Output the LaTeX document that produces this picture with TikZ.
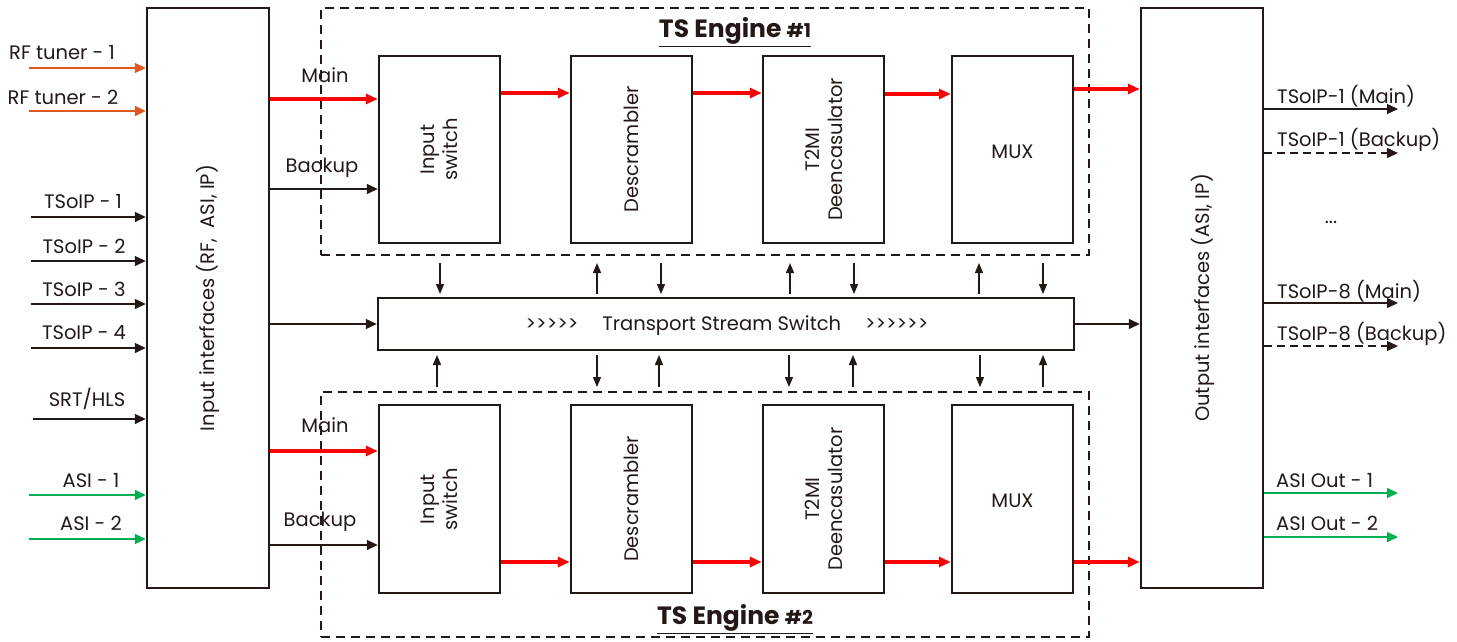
\documentclass[tikz,border=0pt]{standalone}
\usepackage{fontspec}
\setmainfont{Poppins}
\usetikzlibrary{arrows.meta}
\definecolor{ink}{HTML}{231815}
\definecolor{rfor}{HTML}{E0571F}
\definecolor{asig}{HTML}{00B050}
\definecolor{redl}{HTML}{FF0000}
\begin{document}
\begin{tikzpicture}[x=1pt,y=-1pt,
  every node/.style={font=\fontsize{19.5}{23}\selectfont, text=ink, inner sep=0pt},
  box/.style={draw=ink, line width=2.4pt, fill=white},
  engbox/.style={draw=ink, line width=2.4pt, dash pattern=on 9pt off 6pt},
  thinarr/.style={draw=ink, line width=1.3pt, -{Triangle[length=11pt,width=10pt]}},
  vertarr/.style={draw=ink, line width=1.3pt, -{Triangle[length=10pt,width=8pt]}},
  dasharr/.style={thinarr, dash pattern=on 8pt off 5pt},
  redarr/.style={draw=redl, line width=3.2pt, -{Triangle[length=12pt,width=10pt]}},
  orarr/.style={draw=rfor, line width=1.6pt, -{Triangle[length=11pt,width=10pt]}},
  grarr/.style={draw=asig, line width=1.6pt, -{Triangle[length=11pt,width=10pt]}},
  vlabel/.style={rotate=90, align=center},
  title/.style={font=\fontsize{25}{28}\selectfont\bfseries}
]
\useasboundingbox (0,0) rectangle (1457,641);

% engines (dashed)
\node[engbox, minimum width=768pt, minimum height=247pt] (eng1) at (705,131.5) {};
\node[engbox, minimum width=768pt, minimum height=245pt] (eng2) at (705,514.5) {};
\node[title] (t1) at (735,32) {\underline{TS Engine {\fontsize{19}{22}\selectfont\#1}}};
\node[title] (t2) at (735,619) {\underline{TS Engine {\fontsize{19}{22}\selectfont\#2}}};

% input / output blocks
\node[box, minimum width=122pt, minimum height=580pt] (inb) at (208,298) {};
\node[vlabel] (inbt) at (208,298) {Input interfaces (RF,\ \ ASI, IP)};
\node[box, minimum width=122pt, minimum height=580pt] (outb) at (1202,298) {};
\node[vlabel] (outbt) at (1203,298) {Output interfaces (ASI, IP)};

% engine 1 blocks
\node[box, minimum width=121pt, minimum height=187pt] (sw1) at (439.5,149.5) {};
\node[vlabel] (sw1t) at (439.5,149.5) {Input\\switch};
\node[box, minimum width=121pt, minimum height=187pt] (ds1) at (631.5,149.5) {};
\node[vlabel] (ds1t) at (631.5,149.5) {Descrambler};
\node[box, minimum width=121pt, minimum height=187pt] (tm1) at (823.5,149.5) {};
\node[vlabel] (tm1t) at (823.5,149.5) {T2MI\\Deencasulator};
\node[box, minimum width=121pt, minimum height=187pt] (mx1) at (1012.5,149.5) {};
\node (mx1t) at (1012.5,152) {MUX};

% engine 2 blocks
\node[box, minimum width=121pt, minimum height=188pt] (sw2) at (439.5,499) {};
\node[vlabel] (sw2t) at (439.5,499) {Input\\switch};
\node[box, minimum width=121pt, minimum height=188pt] (ds2) at (631.5,499) {};
\node[vlabel] (ds2t) at (631.5,499) {Descrambler};
\node[box, minimum width=121pt, minimum height=188pt] (tm2) at (823.5,499) {};
\node[vlabel] (tm2t) at (823.5,499) {T2MI\\Deencasulator};
\node[box, minimum width=121pt, minimum height=188pt] (mx2) at (1012.5,499) {};
\node (mx2t) at (1012.5,501) {MUX};

% transport stream switch
\node[box, minimum width=696pt, minimum height=52pt] (tss) at (726,324) {};
\node (tsst) at (727,326) {>{}>{}>{}>{}>\hspace{24pt}Transport Stream Switch\hspace{24pt}>{}>{}>{}>{}>{}>};

% engine 1 flow
\draw[redarr] (inb.east |- 0,99) -- (sw1.west |- 0,99);
\draw[thinarr] (inb.east |- 0,189) -- (sw1.west |- 0,189);
\node (main1) at (325,75) {Main};
\node (bk1) at (322,168) {Backup};
\draw[redarr] (sw1.east |- 0,93) -- (ds1.west |- 0,93);
\draw[redarr] (ds1.east |- 0,93) -- (tm1.west |- 0,93);
\draw[redarr] (tm1.east |- 0,94) -- (mx1.west |- 0,94);
\draw[redarr] (mx1.east |- 0,89) -- (outb.west |- 0,89);

% engine 2 flow
\draw[redarr] (inb.east |- 0,451) -- (sw2.west |- 0,451);
\draw[thinarr] (inb.east |- 0,545) -- (sw2.west |- 0,545);
\node (main2) at (325,425) {Main};
\node (bk2) at (320,522) {Backup};
\draw[redarr] (sw2.east |- 0,562) -- (ds2.west |- 0,562);
\draw[redarr] (ds2.east |- 0,562) -- (tm2.west |- 0,562);
\draw[redarr] (tm2.east |- 0,562) -- (mx2.west |- 0,562);
\draw[redarr] (mx2.east |- 0,562) -- (outb.west |- 0,562);

% switch links
\draw[thinarr] (inb.east |- tss) -- (tss.west);
\draw[thinarr] (tss.east) -- (outb.west |- tss);

% vertical arrows top
\draw[vertarr] (440,263) -- (440,294);
\draw[vertarr] (597,294) -- (597,263);
\draw[vertarr] (661,263) -- (661,294);
\draw[vertarr] (790,294) -- (790,263);
\draw[vertarr] (854,263) -- (854,294);
\draw[vertarr] (979,294) -- (979,263);
\draw[vertarr] (1043,263) -- (1043,294);
% vertical arrows bottom
\draw[vertarr] (437,387) -- (437,355);
\draw[vertarr] (597,355) -- (597,387);
\draw[vertarr] (659,387) -- (659,355);
\draw[vertarr] (789,355) -- (789,387);
\draw[vertarr] (853,387) -- (853,355);
\draw[vertarr] (980,355) -- (980,387);
\draw[vertarr] (1043,387) -- (1043,355);

% left inputs
\coordinate (rf1s) at (29,68);  \draw[orarr] (rf1s) -- (inb.west |- rf1s);
\node (rf1) at (62,53) {RF tuner - 1};
\coordinate (rf2s) at (29,111); \draw[orarr] (rf2s) -- (inb.west |- rf2s);
\node (rf2) at (63,97) {RF tuner - 2};
\coordinate (ip1s) at (31,217); \draw[thinarr] (ip1s) -- (inb.west |- ip1s);
\node (ip1) at (83,202) {TSoIP - 1};
\coordinate (ip2s) at (31,261); \draw[thinarr] (ip2s) -- (inb.west |- ip2s);
\node (ip2) at (84,246) {TSoIP - 2};
\coordinate (ip3s) at (31,304); \draw[thinarr] (ip3s) -- (inb.west |- ip3s);
\node (ip3) at (84,289) {TSoIP - 3};
\coordinate (ip4s) at (31,348); \draw[thinarr] (ip4s) -- (inb.west |- ip4s);
\node (ip4) at (84,333) {TSoIP - 4};
\coordinate (srts) at (33,419); \draw[thinarr] (srts) -- (inb.west |- srts);
\node (srt) at (87,399) {SRT/HLS};
\coordinate (as1s) at (29,495); \draw[grarr] (as1s) -- (inb.west |- as1s);
\node (as1) at (91,481) {ASI - 1};
\coordinate (as2s) at (29,539); \draw[grarr] (as2s) -- (inb.west |- as2s);
\node (as2) at (91,523) {ASI - 2};

% right outputs
\coordinate (o1e) at (1398,109); \draw[thinarr] (outb.east |- o1e) -- (o1e);
\node[anchor=west] (o1) at (1277,96) {TSoIP-1 (Main)};
\coordinate (o2e) at (1398,153); \draw[dasharr] (outb.east |- o2e) -- (o2e);
\node[anchor=west] (o2) at (1277,140) {TSoIP-1 (Backup)};
\node (dots) at (1331,222) {...};
\coordinate (o3e) at (1398,303); \draw[thinarr] (outb.east |- o3e) -- (o3e);
\node[anchor=west] (o3) at (1277,291) {TSoIP-8 (Main)};
\coordinate (o4e) at (1398,346); \draw[dasharr] (outb.east |- o4e) -- (o4e);
\node[anchor=west] (o4) at (1277,334) {TSoIP-8 (Backup)};
\coordinate (a1e) at (1398,493); \draw[grarr] (outb.east |- a1e) -- (a1e);
\node[anchor=west] (ao1) at (1276,481) {ASI Out - 1};
\coordinate (a2e) at (1398,537); \draw[grarr] (outb.east |- a2e) -- (a2e);
\node[anchor=west] (ao2) at (1276,523) {ASI Out - 2};
\end{tikzpicture}
\end{document}
